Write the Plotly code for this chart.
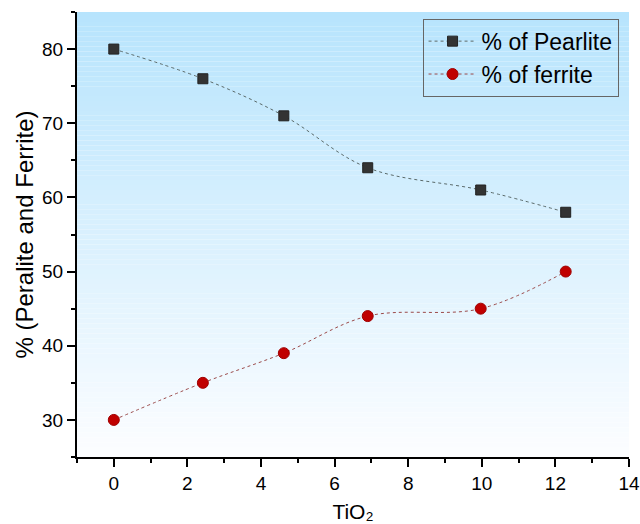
import plotly.graph_objects as go

tio2 = [0, 2.42, 4.62, 6.9, 9.97, 12.28]
pearlite = [80, 76, 71, 64, 61, 58]
ferrite = [30, 35, 39, 44, 45, 50]

fig = go.Figure()

# gradient background (bands)
n = 90
top = (183, 228, 253)
bot = (252, 253, 255)
shapes = []
for i in range(n):
    t = i / (n - 1)
    c = tuple(round(top[k] + (bot[k] - top[k]) * t) for k in range(3))
    shapes.append(dict(type="rect", xref="x domain", yref="y domain",
                       x0=0, x1=1, y0=1 - (i + 1) / n, y1=1 - i / n,
                       fillcolor="rgb(%d,%d,%d)" % c, line=dict(width=0),
                       layer="below"))

fig.add_trace(go.Scatter(
    x=tio2, y=pearlite, mode="lines+markers", name="% of Pearlite",
    line=dict(shape="spline", smoothing=1.0, color="#5a6a6a", width=1, dash="dot"),
    marker=dict(symbol="square", size=10, color="#333333",
                line=dict(color="#222222", width=1))))
fig.add_trace(go.Scatter(
    x=tio2, y=ferrite, mode="lines+markers", name="% of ferrite",
    line=dict(shape="spline", smoothing=1.0, color="#9b4a4a", width=1, dash="dot"),
    marker=dict(symbol="circle", size=11, color="#c00000",
                line=dict(color="#a00000", width=1))))

FONT = "Arial, Liberation Sans, sans-serif"
axis_common = dict(showline=True, linecolor="black", linewidth=2,
                   ticks="outside", ticklen=8, tickwidth=1.5, tickcolor="black",
                   showgrid=False, zeroline=False, mirror=False, automargin=False,
                   tickfont=dict(family=FONT, size=19, color="black"))

fig.update_layout(
    width=640, height=524,
    paper_bgcolor="white", plot_bgcolor="white",
    margin=dict(l=77, r=11, t=12, b=67),
    shapes=shapes,
    xaxis=dict(range=[-1, 14], dtick=2, tick0=0,
               minor=dict(ticks="outside", ticklen=4, dtick=1, tick0=0, tickcolor="black", tickwidth=1.5),
               title=dict(text="TiO₂", font=dict(family=FONT, size=21, color="black"), standoff=12),
               **axis_common),
    yaxis=dict(range=[25, 85], dtick=10, tick0=0,
               minor=dict(ticks="outside", ticklen=4, dtick=5, tick0=0, tickcolor="black", tickwidth=1.5),
               title=dict(text="% (Peralite and Ferrite)", font=dict(family=FONT, size=24, color="black"), standoff=2),
               **axis_common),
    legend=dict(x=0.626, y=0.985, xanchor="left", yanchor="top",
                bgcolor="rgba(0,0,0,0)", bordercolor="#666666", borderwidth=1,
                font=dict(family=FONT, size=23, color="black"),
                tracegroupgap=0, itemwidth=48),
    showlegend=True,
)

fig.write_html("out.html", config={"displayModeBar": False})

with open("out.html", "r", encoding="utf-8") as f:
    html = f.read()
html = html.replace("<head>", "<head><style>html,body{margin:0;padding:0;overflow:hidden}</style>", 1)
with open("out.html", "w", encoding="utf-8") as f:
    f.write(html)
